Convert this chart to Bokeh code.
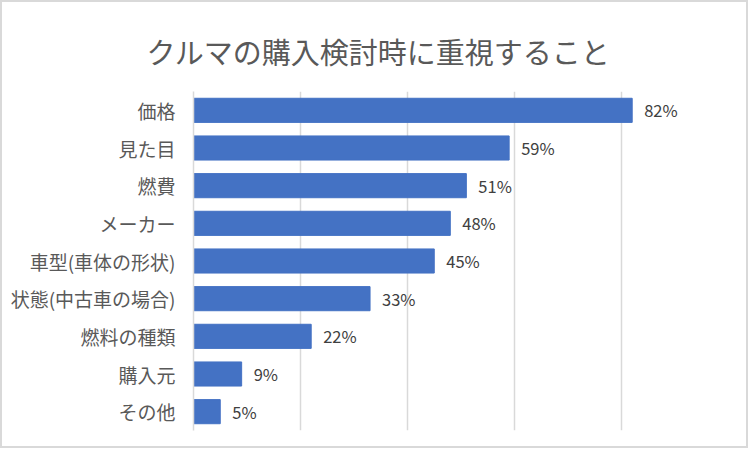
from bokeh.plotting import figure
from bokeh.models import FactorRange, Range1d, FixedTicker, ColumnDataSource
from bokeh.core.properties import value
from bokeh.embed import file_html
from bokeh.resources import INLINE

# Survey items, top to bottom
categories = ["価格", "見た目", "燃費", "メーカー", "車型(車体の形状)",
              "状態(中古車の場合)", "燃料の種類", "購入元", "その他"]
# Share of respondents (%)
shares = [82, 59, 51, 48, 45, 33, 22, 9, 5]
pct_labels = [f"{v}%" for v in shares]
chart_title = "クルマの購入検討時に重視すること"

FONT = "Noto Sans CJK JP"

src = ColumnDataSource(dict(cat=categories, val=shares, lab=pct_labels))

p = figure(
    width=748, height=448,
    y_range=FactorRange(factors=categories[::-1], range_padding=0),
    x_range=Range1d(0, 100),
    output_backend="svg", toolbar_location=None,
    min_border_left=191, min_border_right=22, min_border_top=89, min_border_bottom=20,
    title=chart_title,
    styles={"border": "2px solid #d9d9d9"},
)

# heading: left-anchored with a negative offset so it sits centred on the canvas
p.title.align = "left"
p.title.vertical_align = "top"
p.title.offset = -47
p.title.text_font = FONT
p.title.text_font_size = "29px"
p.title.text_font_style = "normal"
p.title.text_color = "#595959"
p.title.standoff = 36

p.hbar(y="cat", right="val", left=0, height=0.64, color="#4472C4", source=src)

p.text(x="val", y="cat", text="lab", source=src, x_offset=12,
       text_font=value(FONT), text_font_size="16.5px", text_color="#404040",
       text_baseline="middle", text_align="left")

p.xaxis.visible = False
p.xgrid.ticker = FixedTicker(ticks=[0, 20, 40, 60, 80, 100])
p.xgrid.grid_line_color = "#d9d9d9"
p.xgrid.grid_line_width = 1.5
p.ygrid.grid_line_color = None

ax = p.yaxis[0]
ax.axis_line_color = "#d9d9d9"
ax.axis_line_width = 1.5
ax.major_tick_line_color = None
ax.minor_tick_line_color = None
ax.major_label_standoff = 12
ax.major_label_text_font = FONT
ax.major_label_text_font_size = "19px"
ax.major_label_text_color = "#595959"

p.outline_line_color = None
p.background_fill_color = "white"
p.border_fill_color = "white"

open("out.html", "w").write(file_html(p, INLINE))
